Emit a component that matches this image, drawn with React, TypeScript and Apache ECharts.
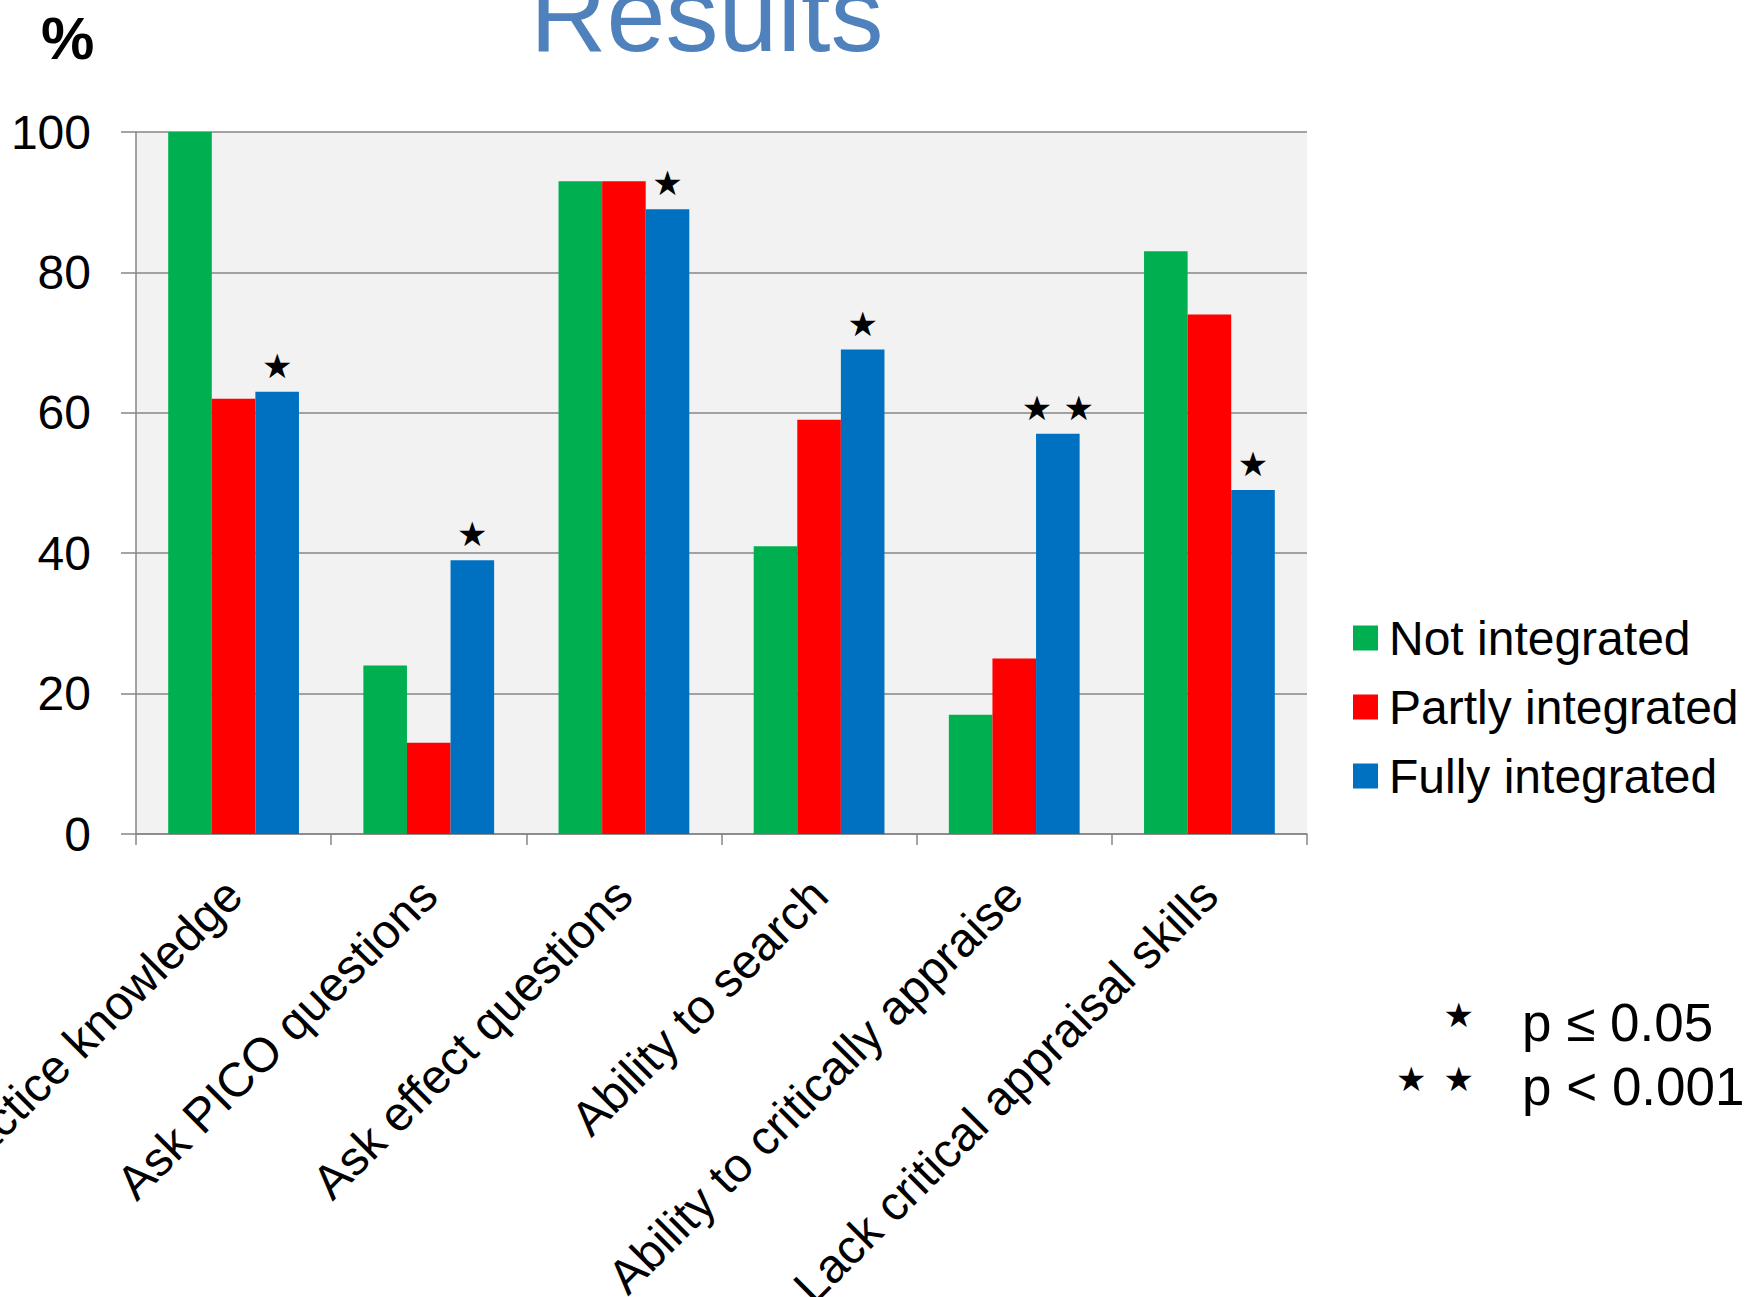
import React, { useEffect, useRef } from "react";
import * as echarts from "echarts";

const categories = [
  "Practice knowledge",
  "Ask PICO questions",
  "Ask effect questions",
  "Ability to search",
  "Ability to critically appraise",
  "Lack critical appraisal skills",
];
const seriesNames = ["Not integrated", "Partly integrated", "Fully integrated"];
const notIntegrated = [100, 24, 93, 41, 17, 83];
const partlyIntegrated = [62, 13, 93, 59, 25, 74];
const fullyIntegrated = [63, 39, 89, 69, 57, 49];
const significance = ["★", "★", "★", "★", "★\u2004★", "★"];
const starLegend = [
  { stars: "★", text: "p ≤ 0.05" },
  { stars: "★\u2002★", text: "p < 0.001" },
];

const FONT = '"Liberation Sans", Arial, sans-serif';
const STAR_FONT = '"DejaVu Sans", sans-serif';
const GRAY = "#868686";

export default function App() {
  const ref = useRef<HTMLDivElement>(null);
  useEffect(() => {
    if (!ref.current) return;
    const chart = echarts.init(ref.current, undefined, { renderer: "svg" });
    chart.setOption({
      animation: false,
      backgroundColor: "#FFFFFF",
      grid: {
        left: 136,
        top: 132,
        width: 1171,
        height: 702,
        containLabel: false,
        outerBoundsMode: "none",
        show: true,
        backgroundColor: "#F2F2F2",
        borderWidth: 0,
      },
      legend: {
        orient: "vertical",
        left: 1348,
        top: 608,
        icon: "rect",
        itemWidth: 25,
        itemHeight: 25,
        itemGap: 19,
        data: seriesNames,
        textStyle: {
          fontFamily: FONT,
          fontSize: 48,
          lineHeight: 50,
          color: "#000",
          padding: [0, 0, 0, 6],
        },
      },
      xAxis: {
        type: "category",
        data: categories,
        axisLine: { lineStyle: { color: GRAY, width: 1.5 } },
        axisTick: { show: true, length: 11, lineStyle: { color: GRAY, width: 1.5 } },
        axisLabel: {
          rotate: 45,
          interval: 0,
          margin: 53,
          fontFamily: FONT,
          fontSize: 48,
          color: "#000",
        },
      },
      yAxis: {
        type: "value",
        min: 0,
        max: 100,
        interval: 20,
        axisLine: { show: true, lineStyle: { color: GRAY, width: 1.5 } },
        axisTick: { show: true, length: 15, lineStyle: { color: GRAY, width: 1.5 } },
        splitLine: { show: true, lineStyle: { color: GRAY, width: 1.5 } },
        axisLabel: {
          margin: 45,
          fontFamily: FONT,
          fontSize: 48,
          color: "#000",
        },
      },
      series: [
        {
          name: seriesNames[0],
          type: "bar",
          data: notIntegrated,
          itemStyle: { color: "#00B050" },
          barGap: "0%",
          barCategoryGap: "33%",
        },
        {
          name: seriesNames[1],
          type: "bar",
          data: partlyIntegrated,
          itemStyle: { color: "#FF0000" },
          barGap: "0%",
          barCategoryGap: "33%",
        },
        {
          name: seriesNames[2],
          type: "bar",
          data: fullyIntegrated,
          itemStyle: { color: "#0070C0" },
          barGap: "0%",
          barCategoryGap: "33%",
          label: {
            show: true,
            position: "top",
            distance: 9,
            formatter: (p: any) => significance[p.dataIndex],
            fontFamily: STAR_FONT,
            fontSize: 34,
            color: "#000",
          },
        },
      ],
      graphic: [
        {
          type: "text",
          x: 530,
          y: 14,
          style: {
            text: "Results",
            fontFamily: FONT,
            fontSize: 106,
            fill: "#4F81BD",
            align: "left",
            verticalAlign: "middle",
          },
        },
        {
          type: "text",
          x: 41,
          y: 38,
          style: {
            text: "%",
            fontFamily: FONT,
            fontSize: 60,
            fontWeight: "bold",
            fill: "#000",
            align: "left",
            verticalAlign: "middle",
          },
        },
        ...starLegend.flatMap((s, i) => [
          {
            type: "text",
            x: 1474,
            y: 1015 + i * 64,
            style: {
              text: s.stars,
              fontFamily: STAR_FONT,
              fontSize: 34,
              fill: "#000",
              align: "right",
              verticalAlign: "middle",
            },
          },
          {
            type: "text",
            x: 1522,
            y: 1022 + i * 64,
            style: {
              text: s.text,
              fontFamily: FONT,
              fontSize: 53,
              fill: "#000",
              align: "left",
              verticalAlign: "middle",
            },
          },
        ]),
      ],
    });
    return () => chart.dispose();
  }, []);
  return (
    <div
      ref={ref}
      style={{ position: "fixed", left: 0, top: 0, width: 1748, height: 1297 }}
    />
  );
}
